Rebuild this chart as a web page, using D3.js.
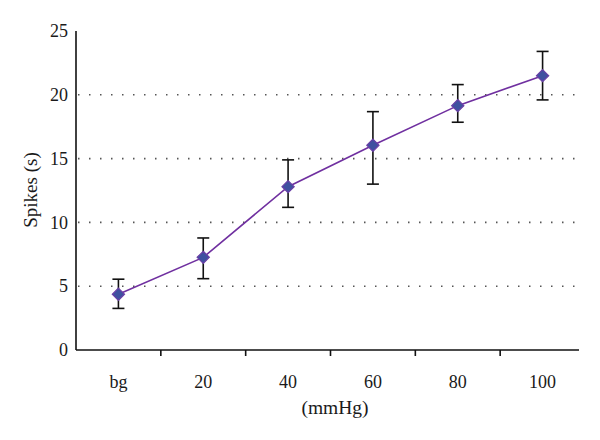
<!DOCTYPE html>
<html><head><meta charset="utf-8">
<script src="https://cdn.jsdelivr.net/npm/d3@7"></script>
<style>body{margin:0;background:#fff}svg{display:block}text{font-family:"Liberation Serif","DejaVu Serif",serif;fill:#1a1a1a}</style>
</head><body><svg id="c" width="600" height="440"></svg>
<script>
const categories = ["bg","20","40","60","80","100"];
const means = [4.37, 7.26, 12.8, 16.05, 19.15, 21.5];
const upper = [5.55, 8.78, 14.9, 18.68, 20.8, 23.4];
const lower = [3.26, 5.59, 11.18, 13.0, 17.85, 19.6];
const yTicks = [0,5,10,15,20,25];
const gridValues = [5,10,15,20];

const svg = d3.select("#c");
const x = d3.scaleBand().domain(categories).range([76, 585]);
const y = d3.scaleLinear().domain([0,25]).range([350, 31]);

// grid
svg.append("g").selectAll("line").data(gridValues).join("line")
  .attr("x1", 78).attr("x2", 575).attr("y1", d=>y(d)).attr("y2", d=>y(d))
  .attr("stroke", "#555").attr("stroke-width", 1.6).attr("stroke-dasharray", "1.5,9.5");

// y axis
const ya = svg.append("g").attr("transform","translate(76,0)")
  .call(d3.axisLeft(y).tickValues(yTicks).tickSize(0).tickPadding(8));
ya.select(".domain").remove();
ya.append("line").attr("x1",0).attr("x2",0).attr("y1",y(0)).attr("y2",y(25)).attr("stroke","#111").attr("stroke-width",1.6);
ya.selectAll("text").style("font-size","18px").attr("font-family",null);

// x axis
const xa = svg.append("g").attr("transform","translate(0,350)")
  .call(d3.axisBottom(x).tickSize(0).tickPadding(25));
xa.select(".domain").remove();
xa.append("line").attr("x1",76).attr("x2",579).attr("y1",0).attr("y2",0).attr("stroke","#111").attr("stroke-width",1.6);
xa.selectAll("text").style("font-size","18px").attr("font-family",null);
xa.append("g").selectAll("line").data(categories.slice(1)).join("line")
  .attr("x1", d=>x(d)).attr("x2", d=>x(d)).attr("y1",0).attr("y2",6)
  .attr("stroke","#111").attr("stroke-width",1.6);
ya.selectAll("text").attr("fill",null); xa.selectAll("text").attr("fill",null);

// labels
svg.append("text").attr("x",335).attr("y",414).attr("text-anchor","middle").style("font-size","19.5px").text("(mmHg)");
svg.append("text").attr("transform","translate(37,190) rotate(-90)").attr("text-anchor","middle").style("font-size","19px").text("Spikes (s)");

const cx = d => x(d) + x.bandwidth()/2;

// line
svg.append("path").datum(categories)
  .attr("d", d3.line().x(d=>cx(d)).y((d,i)=>y(means[i])))
  .attr("fill","none").attr("stroke","#7030A0").attr("stroke-width",1.6);

// error bars
const eb = svg.append("g").attr("stroke","#111").attr("stroke-width",1.6);
categories.forEach((c,i)=>{
  eb.append("line").attr("x1",cx(c)).attr("x2",cx(c)).attr("y1",y(upper[i])).attr("y2",y(lower[i]));
  eb.append("line").attr("x1",cx(c)-6).attr("x2",cx(c)+6).attr("y1",y(upper[i])).attr("y2",y(upper[i]));
  eb.append("line").attr("x1",cx(c)-6).attr("x2",cx(c)+6).attr("y1",y(lower[i])).attr("y2",y(lower[i]));
});

// markers
svg.append("g").selectAll("path").data(categories).join("path")
  .attr("transform",(d,i)=>`translate(${cx(d)},${y(means[i])})`)
  .attr("d", d3.symbol().type(d3.symbolDiamond2).size(95))
  .attr("fill","#3F51A0").attr("stroke","#6A3FA6").attr("stroke-width",1.2);
</script></body></html>
